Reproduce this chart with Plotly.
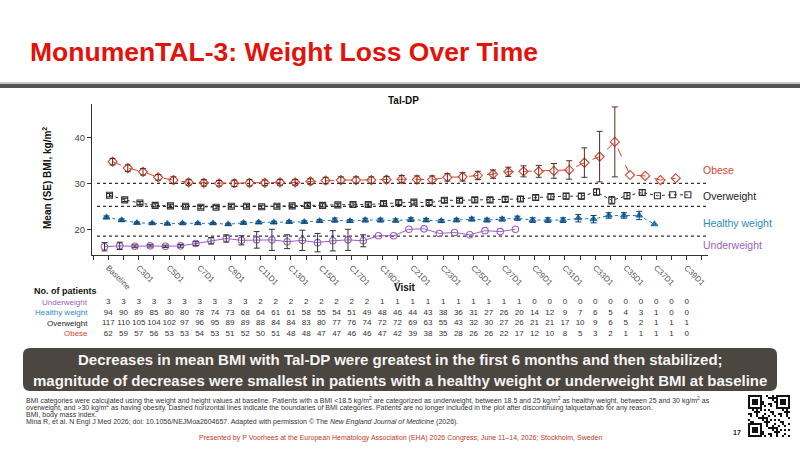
import plotly.graph_objects as go

W, H = 800, 449
def px(x): return x / W
def py(y): return 1 - y / H

# ---------------- data ----------------
visits = ["Baseline", "C2D1", "C3D1", "C4D1", "C5D1", "C6D1", "C7D1", "C8D1", "C9D1", "C10D1",
          "C11D1", "C12D1", "C13D1", "C14D1", "C15D1", "C16D1", "C17D1", "C18D1", "C19D1", "C20D1",
          "C21D1", "C22D1", "C23D1", "C24D1", "C25D1", "C26D1", "C27D1", "C28D1", "C29D1", "C30D1",
          "C31D1", "C32D1", "C33D1", "C34D1", "C35D1", "C36D1", "C37D1", "C38D1", "C39D1"]

obese_mean = [34.7, 33.3, 32.5, 31.3, 30.7, 30.2, 30.1, 30.0, 30.0, 30.1,
              30.1, 30.2, 30.2, 30.4, 30.6, 30.7, 30.7, 30.7, 30.8, 30.9,
              30.8, 30.8, 31.3, 31.4, 31.7, 32.0, 32.5, 32.6, 32.6, 32.7,
              32.9, 34.5, 35.8, 39.0, 31.8, 31.6, 30.7, 31.1]
obese_se = [0.7, 0.7, 0.7, 0.6, 0.7, 0.6, 0.7, 0.6, 0.7, 0.7,
            0.6, 0.6, 0.6, 0.6, 0.7, 0.7, 0.7, 0.7, 0.7, 0.8,
            0.8, 0.8, 0.8, 0.9, 0.9, 0.9, 1.0, 1.2, 1.3, 1.6,
            2.0, 3.2, 5.5, 7.6]

over_mean = [27.4, 26.4, 25.7, 25.2, 25.1, 25.0, 24.8, 24.8, 25.0, 25.0,
             24.9, 25.0, 25.1, 25.2, 25.2, 25.3, 25.4, 25.4, 25.6, 25.8,
             25.9, 25.8, 26.3, 26.3, 26.4, 26.4, 26.5, 26.6, 26.9, 27.1,
             27.2, 27.2, 28.1, 26.3, 27.3, 28.0, 27.3, 27.5, 27.5]
over_se = [0.35, 0.35, 0.35, 0.35, 0.35, 0.35, 0.35, 0.35, 0.35, 0.35,
           0.35, 0.35, 0.35, 0.35, 0.35, 0.35, 0.35, 0.35, 0.4, 0.4,
           0.4, 0.45, 0.45, 0.4, 0.5, 0.5, 0.5, 0.5, 0.55, 0.55,
           0.6, 0.6, 0.7, 0.8, 0.7, 0.6]

healthy_mean = [22.6, 22.0, 21.4, 21.3, 21.2, 21.3, 21.3, 21.3, 21.1, 21.4,
                21.5, 21.5, 21.6, 21.6, 21.8, 22.0, 21.8, 22.0, 22.0, 21.9,
                22.1, 22.0, 21.8, 22.0, 22.2, 22.0, 22.2, 22.4, 22.0, 22.0,
                22.0, 22.4, 22.2, 23.0, 23.0, 23.0, 21.1]
healthy_se = [0.3, 0.25, 0.2, 0.2, 0.2, 0.2, 0.2, 0.2, 0.2, 0.25,
              0.25, 0.25, 0.25, 0.25, 0.3, 0.45, 0.3, 0.4, 0.4, 0.35,
              0.4, 0.35, 0.35, 0.35, 0.4, 0.4, 0.4, 0.45, 0.5, 0.5,
              0.5, 0.8, 0.8, 0.6, 0.6, 0.9]

under_mean = [16.2, 16.4, 16.3, 16.4, 16.3, 16.4, 16.9, 17.5, 18.0, 17.6,
              17.7, 17.7, 17.3, 17.6, 17.1, 17.5, 17.7, 17.5, 18.6, 18.6,
              20.0, 20.1, 19.1, 19.3, 18.8, 19.7, 19.5, 20.0]
under_se = [0.9, 0.8, 0.3, 0.25, 0.25, 0.3, 0.4, 0.7, 0.8, 1.0,
            1.8, 2.3, 1.5, 2.2, 2.0, 2.2, 2.3, 1.3]

n_under = [3, 3, 3, 3, 3, 3, 3, 3, 3, 3, 2, 2, 2, 2, 2, 2, 2, 2, 1, 1,
           1, 1, 1, 1, 1, 1, 1, 1, 0, 0, 0, 0, 0, 0, 0, 0, 0, 0, 0]
n_healthy = [94, 90, 89, 85, 80, 80, 78, 74, 73, 68, 64, 61, 61, 58, 55, 54, 51, 49, 48, 46,
             44, 43, 38, 36, 31, 27, 26, 20, 14, 12, 9, 7, 6, 5, 4, 3, 1, 0, 0]
n_over = [117, 110, 105, 104, 102, 97, 96, 95, 89, 89, 88, 84, 84, 83, 80, 77, 76, 74, 72, 72,
          69, 63, 55, 43, 32, 30, 27, 26, 21, 21, 17, 10, 9, 6, 5, 2, 1, 1, 1]
n_obese = [62, 59, 57, 56, 53, 53, 54, 53, 51, 52, 50, 51, 48, 48, 47, 47, 46, 46, 47, 42,
           39, 38, 35, 28, 26, 26, 22, 17, 12, 10, 8, 5, 3, 2, 1, 1, 1, 1, 0]

group_names = ["Obese", "Overweight", "Healthy weight", "Underweight"]
bmi_boundaries = [30, 25, 18.5]

# ---------------- styles ----------------
SANS = "Liberation Sans, Arial, sans-serif"
C_OB, C_OV, C_HE, C_UN = "#d6452f", "#333333", "#1f78b4", "#9b5fc0"

series = [
    dict(name="Obese", mean=obese_mean, se=obese_se, color=C_OB, dash="dash",
         symbol="diamond-open", size=7, off=0.28, lw=1.0, ec="#5a2a22"),
    dict(name="Overweight", mean=over_mean, se=over_se, color=C_OV, dash="dot",
         symbol="square-open", size=6, off=0.08, lw=1.0, ec="#222"),
    dict(name="Healthy weight", mean=healthy_mean, se=healthy_se, color=C_HE, dash="dot",
         symbol="triangle-up", size=6, off=-0.12, lw=1.0, ec="#1d3f66"),
    dict(name="Underweight", mean=under_mean, se=under_se, color=C_UN, dash="solid",
         symbol="circle-open", size=6.5, off=-0.25, lw=1.0, ec="#333"),
]

fig = go.Figure()

for s in series:
    xs = [i + s["off"] for i in range(len(s["mean"]))]
    fig.add_trace(go.Scatter(
        x=xs, y=s["mean"], mode="lines+markers",
        line=dict(color=s["color"], dash=s["dash"], width=s["lw"]),
        marker=dict(symbol=s["symbol"], size=s["size"], color=s["color"],
                    line=dict(color=s["color"], width=1.1)),
        showlegend=False, xaxis="x", yaxis="y"))
    ne = len(s["se"])
    fig.add_trace(go.Scatter(
        x=xs[:ne], y=s["mean"][:ne], mode="markers",
        marker=dict(size=1, opacity=0),
        error_y=dict(type="data", array=s["se"], color=s["ec"], thickness=1, width=3),
        showlegend=False, hoverinfo="skip", xaxis="x", yaxis="y"))

# patient table
rows = [(n_under, 3, "Underweight", C_UN), (n_healthy, 2, "Healthy weight", "#2d8cc4"),
        (n_over, 1, "Overweight", "#222222"), (n_obese, 0, "Obese", "#d6452f")]
for vals, ry, lab, col in rows:
    fig.add_trace(go.Scatter(
        x=list(range(len(vals))), y=[ry] * len(vals), mode="text",
        text=[str(v) for v in vals], textfont=dict(family=SANS, size=8, color="#333"),
        showlegend=False, hoverinfo="skip", xaxis="x", yaxis="y2", cliponaxis=False))

# ---------------- layout ----------------
tickvals = list(range(0, 39, 2))
ticktext = [visits[i] for i in tickvals]

x0_px, x1_px = 92, 708
i0_px, step = 108.3, 15.22
xr = [(x0_px - i0_px) / step, (x1_px - i0_px) / step]

fig.update_layout(
    width=W, height=H, margin=dict(l=0, r=0, t=0, b=0),
    paper_bgcolor="white", plot_bgcolor="white",
    xaxis=dict(domain=[px(x0_px), px(x1_px)], range=xr, anchor="y",
               tickvals=tickvals, ticktext=ticktext, tickangle=45,
               tickfont=dict(family=SANS, size=8, color="#555"),
               showline=True, linecolor="#333", linewidth=1, ticks="outside",
               ticklen=4, tickcolor="#333", showgrid=False, zeroline=False,
               minor=dict(dtick=1, tick0=0, ticks="outside", ticklen=4, tickcolor="#333")),
    yaxis=dict(domain=[py(255), py(104)], range=[14.41, 47.24], anchor="x",
               tickvals=[20, 30, 40], tickfont=dict(family=SANS, size=9.5, color="#444"),
               showline=True, linecolor="#333", linewidth=1, ticks="outside",
               ticklen=4, tickcolor="#333", showgrid=False, zeroline=False),
    yaxis2=dict(domain=[py(340), py(286)], range=[-0.57, 4.54], anchor="x",
                visible=False, showgrid=False, zeroline=False),
    font=dict(family=SANS),
)

shapes = []
for b in bmi_boundaries:
    shapes.append(dict(type="line", xref="paper", yref="y", x0=px(97), x1=px(707), y0=b, y1=b,
                       line=dict(color="#333", width=1.2, dash="dot"), layer="below"))
shapes.append(dict(type="rect", xref="paper", yref="paper", x0=0, x1=1, y0=py(82), y1=py(84),
                   fillcolor="#c8c8c8", line=dict(width=0)))
shapes.append(dict(type="rect", xref="paper", yref="paper", x0=0, x1=1, y0=py(84), y1=py(88),
                   fillcolor="#55554f", line=dict(width=0)))

def rrect(xa, ya, xb, yb, r):
    X = lambda v: px(v)
    Y = lambda v: py(v)
    return (f"M {X(xa+r)},{Y(ya)} L {X(xb-r)},{Y(ya)} Q {X(xb)},{Y(ya)} {X(xb)},{Y(ya+r)} "
            f"L {X(xb)},{Y(yb-r)} Q {X(xb)},{Y(yb)} {X(xb-r)},{Y(yb)} "
            f"L {X(xa+r)},{Y(yb)} Q {X(xa)},{Y(yb)} {X(xa)},{Y(yb-r)} "
            f"L {X(xa)},{Y(ya+r)} Q {X(xa)},{Y(ya)} {X(xa+r)},{Y(ya)} Z")
shapes.append(dict(type="path", xref="paper", yref="paper", path=rrect(23, 348, 777, 391, 7),
                   fillcolor="#4b4640", line=dict(width=0)))

# decorative QR code
qx, qy, m = 748, 395, 2
cells = []
for r in range(21):
    for c in range(21):
        fr = None
        for (fr0, fc0) in [(0, 0), (0, 14), (14, 0)]:
            if fr0 <= r < fr0 + 7 and fc0 <= c < fc0 + 7:
                fr = (r - fr0, c - fc0)
        if fr is not None:
            rr, cc = fr
            on = (rr in (0, 6) or cc in (0, 6)) or (2 <= rr <= 4 and 2 <= cc <= 4)
        else:
            on = ((r * 7 + c * 11 + (r * c) % 5) % 3) == 0
        if on:
            cells.append(f"M {px(qx+c*m)},{py(qy+r*m)} H {px(qx+c*m+m)} V {py(qy+r*m+m)} H {px(qx+c*m)} Z")
shapes.append(dict(type="path", xref="paper", yref="paper", path=" ".join(cells),
                   fillcolor="#111", line=dict(width=0)))
fig.update_layout(shapes=shapes)

ann = []
def A(x, y, text, size, color="#222", xanchor="left", bold=False, family=SANS, yref="paper", **kw):
    d = dict(x=px(x), y=(py(y) if yref == "paper" else y), xref="paper", yref=yref,
             text=(f"<b>{text}</b>" if bold else text), showarrow=False, xanchor=xanchor,
             yanchor="middle", font=dict(family=family, size=size, color=color))
    d.update(kw)
    ann.append(d)

A(28, 52, "MonumenTAL-3: Weight Loss Over Time", 26.5, color="#e3120b", bold=True)
A(403, 100, "Tal-DP", 10, color="#111", xanchor="center", bold=True)
A(47, 178, "Mean (SE) BMI, kg/m<sup>2</sup>", 10, color="#111", xanchor="center", bold=True,
  textangle=-90)
A(405, 287, "Visit", 10, color="#111", xanchor="center", bold=True)
A(701, 170, "Obese", 10.5, color="#d6452f")
A(701, 196, "Overweight", 10.5, color="#222")
A(701, 222.5, "Healthy weight", 10.5, color="#2d8cc4")
A(701, 245, "Underweight", 10.5, color="#9b5fc0")
A(32, 291, "No. of patients", 9, color="#111", bold=True)
for vals, ry, lab, col in rows:
    A(90, ry, lab, 8, color=col, xanchor="right", yref="y2")

A(400, 359, "Decreases in mean BMI with Tal-DP were greatest in the first 6 months and then stabilized;",
  15, color="#f4f4f4", xanchor="center", bold=True)
A(400, 380, "magnitude of decreases were smallest in patients with a healthy weight or underweight BMI at baseline",
  15, color="#f4f4f4", xanchor="center", bold=True)

fn = [
    "BMI categories were calculated using the weight and height values at baseline. Patients with a BMI &lt;18.5 kg/m<sup>2</sup> are categorized as underweight, between 18.5 and 25 kg/m<sup>2</sup> as healthy weight, between 25 and 30 kg/m<sup>2</sup> as",
    "overweight, and &gt;30 kg/m<sup>2</sup> as having obesity. Dashed horizontal lines indicate the boundaries of BMI categories. Patients are no longer included in the plot after discontinuing talquetamab for any reason.",
    "BMI, body mass index.",
    "Mina R, et al. N Engl J Med 2026; doi: 10.1056/NEJMoa2604657. Adapted with permission © The <i>New England Journal of Medicine</i> (2026).",
]
for k, t in enumerate(fn):
    A(24, 400.5 + 7.3 * k, t, 7.0, color="#333")
A(400, 438, "Presented by P Voorhees at the European Hematology Association (EHA) 2026 Congress; June 11–14, 2026; Stockholm, Sweden",
  7, color="#c0392b", xanchor="center")
A(737, 432, "17", 7, color="#222", xanchor="center", bold=True)

fig.update_layout(annotations=ann)
fig.write_html("out.html")
